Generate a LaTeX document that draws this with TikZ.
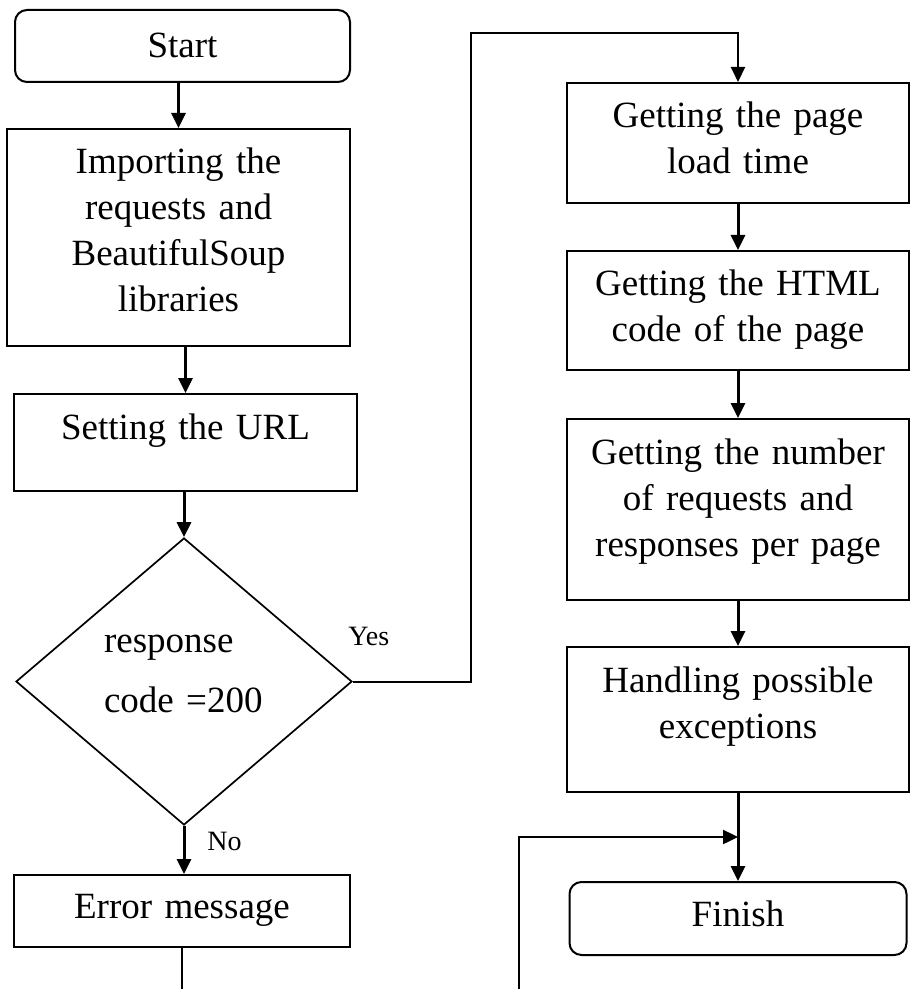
\documentclass[tikz,border=0pt]{standalone}
\usepackage{fontspec}
\setmainfont{Liberation Serif}[WordSpace=0.75]
\usetikzlibrary{shapes.geometric,arrows.meta,calc}

\begin{document}
\begin{tikzpicture}[x=0.5pt,y=-0.5pt,
    box/.style={draw, line width=1pt, align=center, inner sep=0pt, text height=22.5pt, anchor=north, font=\fontsize{18.5}{23}\selectfont},
    term/.style={box, rounded corners=6pt},
    arr/.style={line width=1.5pt, -{Triangle[length=7.5pt,width=7pt]}},
    lbl/.style={inner sep=0pt, anchor=base west, font=\fontsize{14}{16}\selectfont}]
    \useasboundingbox (0,0) rectangle (910,989);

    % Left column
    \node[term, text width=167.5pt, text height=24pt, text depth=12pt] (start) at (182.5,9) {Start};
    \node[box, text width=171.5pt, text depth=86pt] (import) at (178.5,128) {Importing the\\ requests and\\ BeautifulSoup\\ libraries};
    \node[box, text width=171.5pt, text depth=26pt] (setting) at (185.5,393) {Setting the URL};
    \node[diamond, draw, line width=0.85pt, minimum width=168pt, minimum height=143.5pt, inner sep=0pt,
          text width=80pt, align=left, text height=10pt, text depth=39.5pt,
          font=\fontsize{18.5}{23}\selectfont] (cond) at (184,681.5) {response\\[7pt]code =200};
    \node[box, text width=168pt, text height=21.5pt, text depth=14.5pt] (error) at (182,874) {Error message};

    % Right column
    \node[box, text width=171pt, text depth=37.5pt] (load) at (738,82) {Getting the page\\ load time};
    \node[box, text width=171pt, text depth=37pt] (html) at (738,250) {Getting the HTML\\ code of the page};
    \node[box, text width=171pt, text depth=68pt] (count) at (738,418) {Getting the number\\ of requests and\\ responses per page};
    \node[box, text width=171pt, text depth=50pt] (handle) at (738,646) {Handling possible\\ exceptions};
    \node[term, text width=168.5pt, text height=22pt, text depth=14.5pt] (finish) at (738,881) {Finish};

    % Labels
    \node[lbl] (yes) at (348,645) {Yes};
    \node[lbl] (no) at (207,850) {No};

    % Arrows
    \draw[arr] (start.south -| import.north) -- (import.north);
    \draw[arr] (import.south -| setting.north) -- (setting.north);
    \draw[arr] (setting.south -| cond.north) -- (cond.north);
    \draw[arr] (cond.south) -- (cond.south |- error.north);
    \foreach \a/\b in {load/html, html/count, count/handle, handle/finish}
        \draw[arr] (\a.south) -- (\b.north);

    \coordinate (bend) at (471,33);
    \draw[arr, line width=1pt] (cond.east) -| (bend) -| (load.north);

    \coordinate (join) at ($(handle.south)!0.5!(finish.north)$);
    \coordinate (loopin) at (519,989);
    \draw[arr, line width=1.2pt] (loopin) |- (join);

    \coordinate (errend) at (182,989);
    \draw[line width=1pt] (error.south) -- (errend);
\end{tikzpicture}
\end{document}
